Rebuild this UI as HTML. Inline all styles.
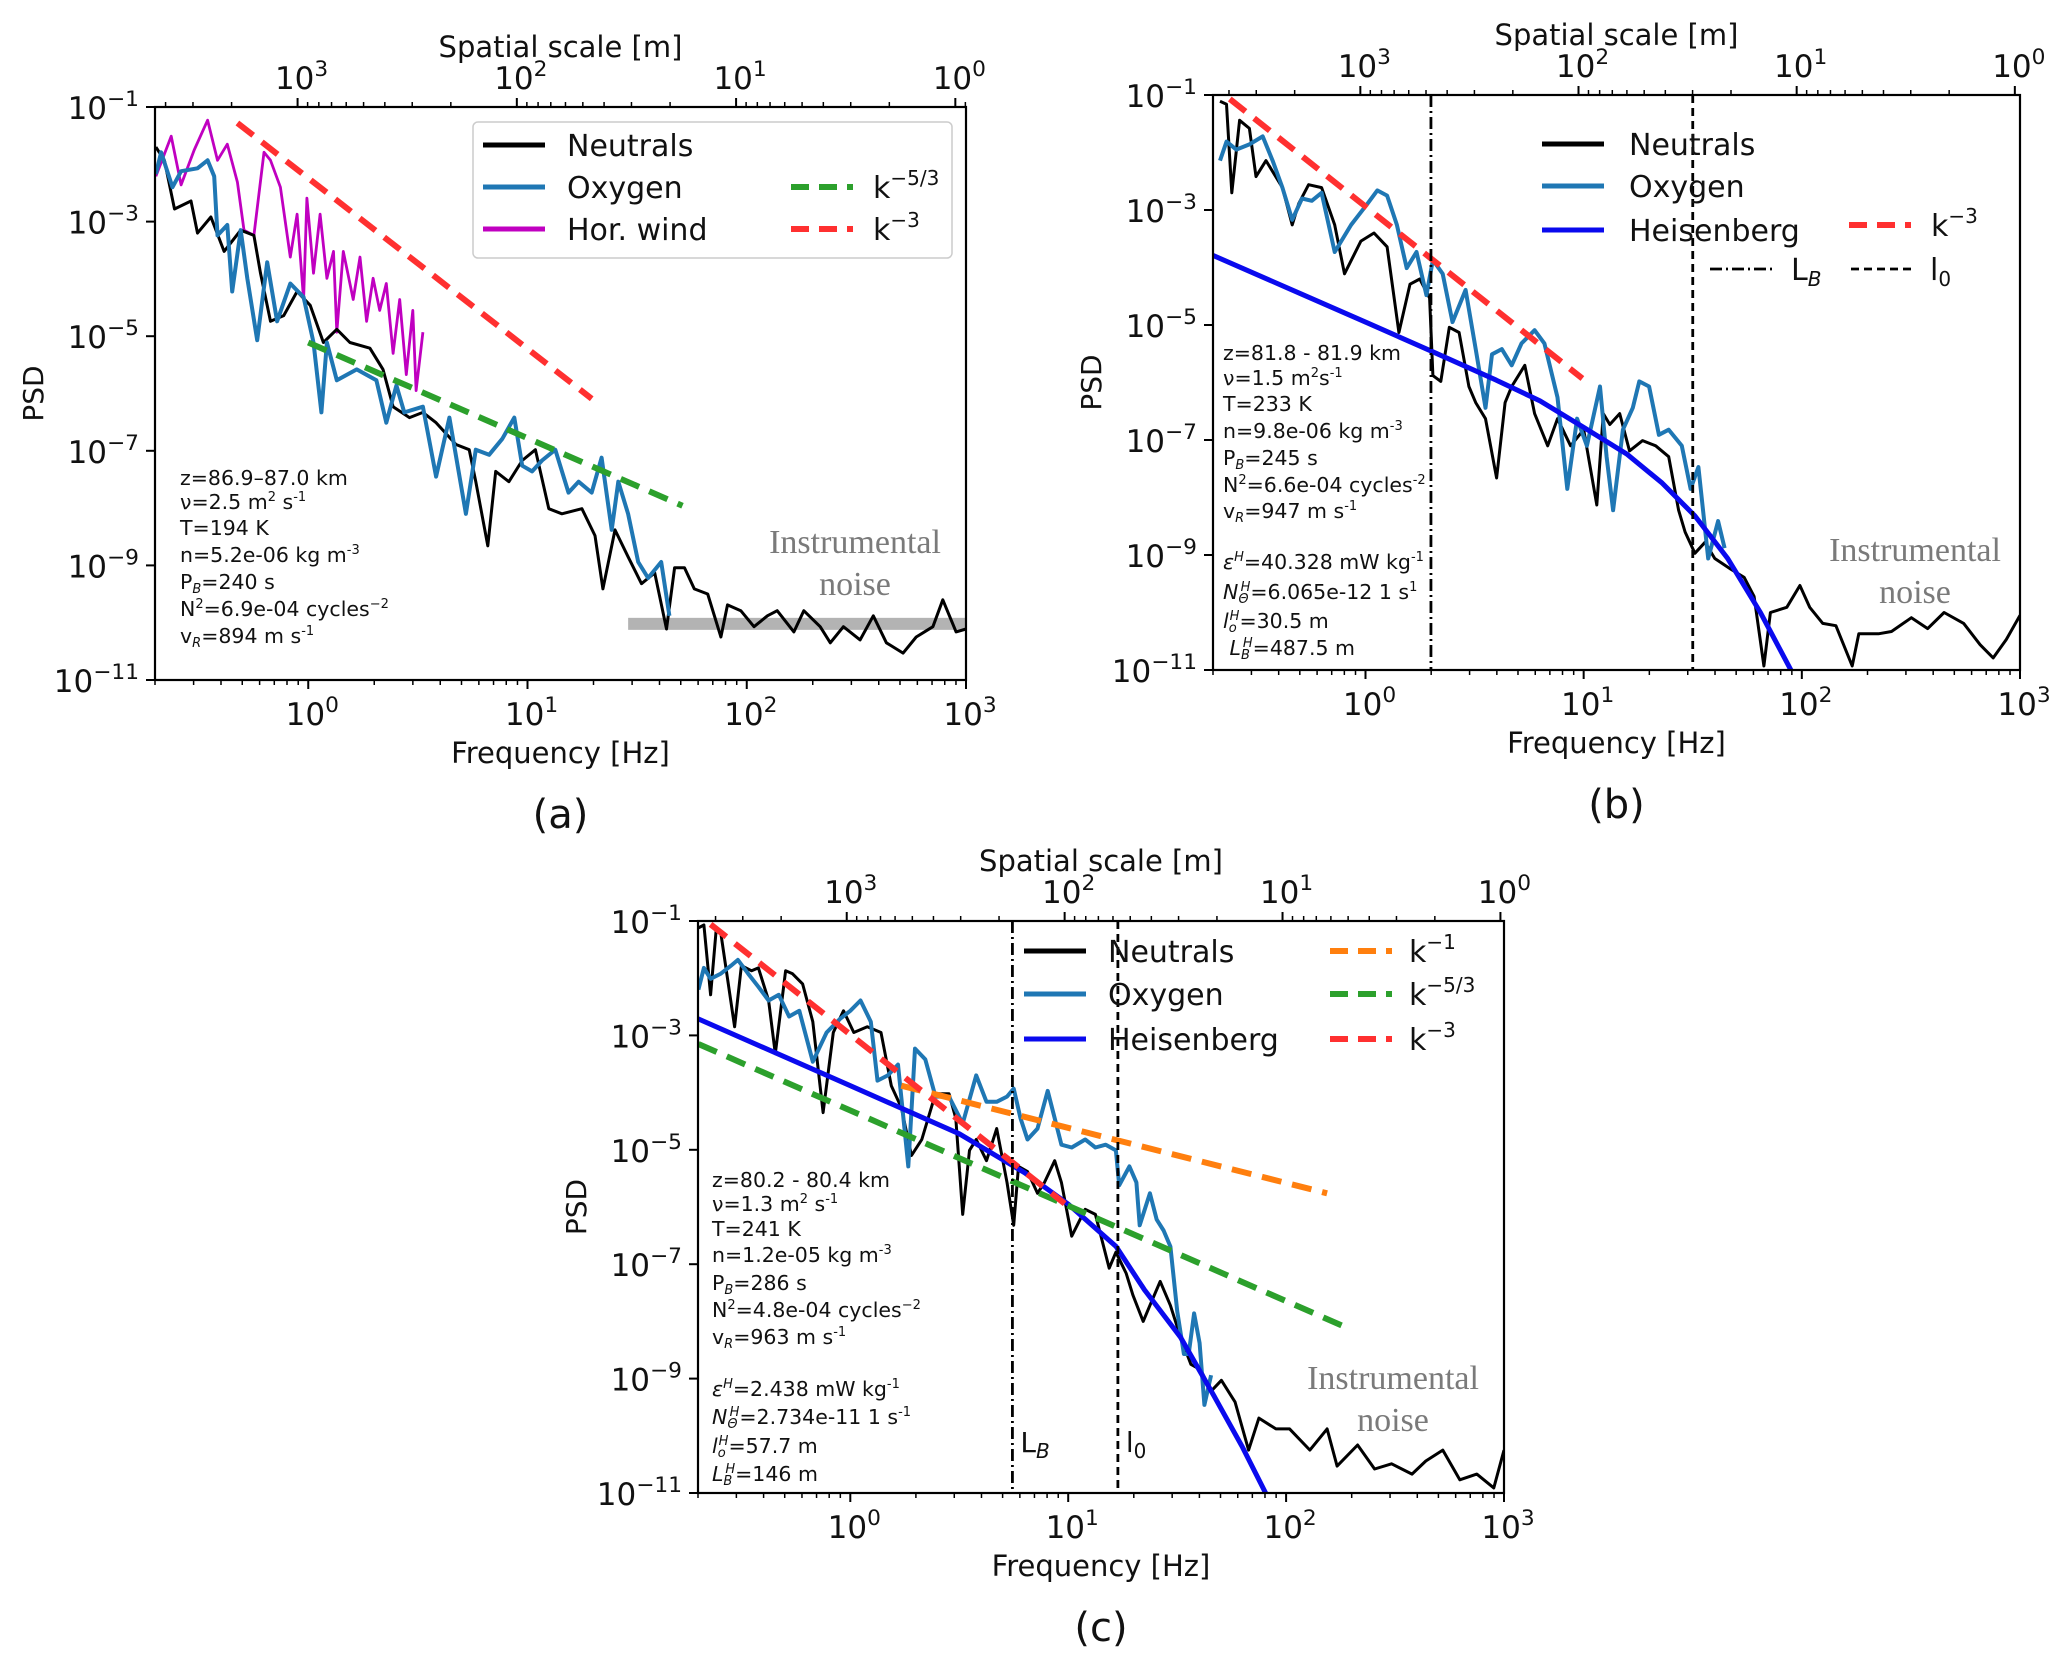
<!DOCTYPE html>
<html><head><meta charset="utf-8">
<style>
html,body{margin:0;padding:0;background:#fff;}
#wrap{position:relative;width:2067px;height:1679px;overflow:hidden;font-family:"DejaVu Sans","Liberation Sans",sans-serif;}
svg{position:absolute;left:0;top:0;}
.ann{position:absolute;font-size:20.5px;line-height:22px;white-space:nowrap;color:#111;}
.ann sup{font-size:13px;vertical-align:8px;line-height:0;}
.ann sub{font-size:13px;vertical-align:-4px;line-height:0;font-style:italic;}
.noise{position:absolute;font-family:"Liberation Serif","DejaVu Serif",serif;font-size:34px;color:#7a7a7a;text-align:center;white-space:nowrap;}
</style></head>
<body>
<div id="wrap">
<svg id="fig" width="2067" height="1679" viewBox="0 0 2067 1679"></svg>

<div class="ann" style="left:180px;top:467px;">
<div style="position:absolute;top:0">z=86.9–87.0 km</div>
<div style="position:absolute;top:24px">ν=2.5 m<sup>2</sup> s<sup>-1</sup></div>
<div style="position:absolute;top:50px">T=194 K</div>
<div style="position:absolute;top:77px">n=5.2e-06 kg m<sup>-3</sup></div>
<div style="position:absolute;top:104px">P<sub>B</sub>=240 s</div>
<div style="position:absolute;top:131px">N<sup>2</sup>=6.9e-04 cycles<sup>−2</sup></div>
<div style="position:absolute;top:158px">v<sub>R</sub>=894 m s<sup>-1</sup></div>
</div>
<div class="noise" style="left:750px;top:522px;width:210px;line-height:42px;">Instrumental<br>noise</div>

<div class="ann" style="left:1223px;top:342px;">
<div style="position:absolute;top:0">z=81.8 - 81.9 km</div>
<div style="position:absolute;top:25px">ν=1.5 m<sup>2</sup>s<sup>-1</sup></div>
<div style="position:absolute;top:51px">T=233 K</div>
<div style="position:absolute;top:78px">n=9.8e-06 kg m<sup>-3</sup></div>
<div style="position:absolute;top:105px">P<sub>B</sub>=245 s</div>
<div style="position:absolute;top:132px">N<sup>2</sup>=6.6e-04 cycles<sup>-2</sup></div>
<div style="position:absolute;top:158px">v<sub>R</sub>=947 m s<sup>-1</sup></div>
<div style="position:absolute;top:209px"><i>ε</i><sup><i>H</i></sup>=40.328 mW kg<sup>-1</sup></div>
<div style="position:absolute;top:239px"><i>N</i><sub>Θ</sub><sup style="margin-left:-8px"><i>H</i></sup>=6.065e-12 1 s<sup>1</sup></div>
<div style="position:absolute;top:268px"><i>l</i><sub>o</sub><sup style="margin-left:-7px"><i>H</i></sup>=30.5 m</div>
<div style="position:absolute;top:295px">&nbsp;<i>L</i><sub>B</sub><sup style="margin-left:-7px"><i>H</i></sup>=487.5 m</div>
</div>
<div class="noise" style="left:1810px;top:530px;width:210px;line-height:42px;">Instrumental<br>noise</div>

<div class="ann" style="left:712px;top:1169px;">
<div style="position:absolute;top:0">z=80.2 - 80.4 km</div>
<div style="position:absolute;top:24px">ν=1.3 m<sup>2</sup> s<sup>-1</sup></div>
<div style="position:absolute;top:49px">T=241 K</div>
<div style="position:absolute;top:75px">n=1.2e-05 kg m<sup>-3</sup></div>
<div style="position:absolute;top:103px">P<sub>B</sub>=286 s</div>
<div style="position:absolute;top:130px">N<sup>2</sup>=4.8e-04 cycles<sup>−2</sup></div>
<div style="position:absolute;top:157px">v<sub>R</sub>=963 m s<sup>-1</sup></div>
<div style="position:absolute;top:209px"><i>ε</i><sup><i>H</i></sup>=2.438 mW kg<sup>-1</sup></div>
<div style="position:absolute;top:237px"><i>N</i><sub>Θ</sub><sup style="margin-left:-8px"><i>H</i></sup>=2.734e-11 1 s<sup>-1</sup></div>
<div style="position:absolute;top:266px"><i>l</i><sub>o</sub><sup style="margin-left:-7px"><i>H</i></sup>=57.7 m</div>
<div style="position:absolute;top:294px"><i>L</i><sub>B</sub><sup style="margin-left:-7px"><i>H</i></sup>=146 m</div>
</div>
<div class="noise" style="left:1288px;top:1358px;width:210px;line-height:42px;">Instrumental<br>noise</div>
</div>

<script>
// ---------- DATA (log10 frequency [Hz], log10 PSD) ----------
const aNeutralF=[-0.695,-0.656,-0.61,-0.535,-0.505,-0.444,-0.384,-0.308,-0.248,-0.218,-0.172,-0.112,-0.051,0.009,0.069,0.13,0.19,0.281,0.341,0.387,0.462,0.523,0.583,0.674,0.734,0.764,0.819,0.855,0.915,0.976,1.036,1.097,1.157,1.248,1.308,1.344,1.399,1.459,1.52,1.58,1.634,1.671,1.716,1.761,1.822,1.882,1.912,1.973,2.033,2.094,2.139,2.215,2.26,2.335,2.381,2.441,2.517,2.577,2.637,2.713,2.773,2.849,2.894,2.955,3.0];
const aNeutralP=[-1.70,-1.93,-2.78,-2.64,-3.20,-2.92,-3.52,-3.15,-3.24,-3.90,-4.74,-4.64,-4.22,-4.46,-5.11,-4.88,-5.11,-5.21,-5.58,-6.23,-6.42,-6.33,-6.51,-6.89,-6.98,-7.54,-8.66,-7.36,-7.54,-7.17,-6.98,-8.01,-8.10,-8.01,-8.48,-9.41,-8.38,-8.85,-9.32,-9.13,-10.11,-9.04,-9.04,-9.41,-9.50,-10.25,-9.69,-9.79,-10.07,-9.88,-9.79,-10.16,-9.79,-10.07,-10.35,-10.07,-10.30,-9.88,-10.35,-10.53,-10.25,-10.07,-9.60,-10.16,-10.11];
const aOxygenF=[-0.695,-0.671,-0.619,-0.58,-0.505,-0.459,-0.429,-0.414,-0.369,-0.347,-0.308,-0.278,-0.233,-0.187,-0.142,-0.082,-0.021,0.024,0.06,0.085,0.13,0.221,0.311,0.356,0.402,0.438,0.523,0.583,0.644,0.719,0.764,0.825,0.885,0.94,0.976,1.021,1.066,1.127,1.187,1.233,1.293,1.338,1.384,1.414,1.459,1.505,1.55,1.61,1.647];
const aOxygenP=[-2.17,-1.79,-2.40,-2.12,-2.07,-1.93,-2.21,-3.24,-3.06,-4.22,-3.15,-3.99,-5.07,-3.71,-4.74,-4.08,-4.32,-5.11,-6.33,-5.11,-5.77,-5.58,-5.77,-6.51,-5.86,-6.33,-6.23,-7.45,-6.42,-8.10,-6.98,-7.07,-6.79,-6.42,-7.26,-7.36,-7.17,-6.98,-7.73,-7.54,-7.73,-7.12,-8.38,-7.54,-8.10,-8.94,-9.22,-8.94,-9.88];
const aWindF=[-0.695,-0.625,-0.58,-0.52,-0.459,-0.414,-0.369,-0.323,-0.293,-0.248,-0.202,-0.172,-0.127,-0.082,-0.051,-0.021,-0.006,0.024,0.054,0.085,0.115,0.13,0.16,0.205,0.236,0.266,0.296,0.326,0.356,0.387,0.417,0.447,0.477,0.492,0.523];
const aWindP=[-2.21,-1.51,-2.36,-1.75,-1.23,-1.93,-1.65,-2.31,-3.15,-3.24,-1.79,-1.93,-2.40,-3.62,-2.87,-4.36,-2.59,-3.90,-2.87,-3.99,-3.52,-4.93,-3.52,-4.36,-3.62,-4.74,-3.99,-4.55,-4.08,-5.30,-4.36,-5.67,-4.55,-5.95,-4.93];
const aK3F=[-0.323,1.293], aK3P=[-1.28,-6.09];
const aK53F=[0.0,1.707], aK53P=[-5.11,-7.96];
const aNoiseF=[1.459,3.0], aNoiseP=[-10.02,-10.02];

const bNeutralF=[-0.667,-0.637,-0.613,-0.577,-0.532,-0.502,-0.456,-0.426,-0.381,-0.336,-0.306,-0.261,-0.201,-0.141,-0.096,-0.021,0.039,0.099,0.153,0.204,0.249,0.294,0.309,0.345,0.384,0.429,0.474,0.505,0.55,0.601,0.64,0.67,0.73,0.775,0.835,0.88,0.94,1.0,1.06,1.09,1.12,1.165,1.21,1.27,1.33,1.39,1.435,1.465,1.51,1.556,1.601,1.676,1.736,1.781,1.826,1.856,1.931,1.991,2.036,2.096,2.156,2.231,2.261,2.351,2.411,2.502,2.577,2.652,2.742,2.817,2.877,2.937,3.0];
const bNeutralP=[-1.11,-1.16,-2.70,-1.44,-1.58,-2.42,-2.14,-2.33,-2.61,-3.26,-2.89,-2.56,-2.61,-3.26,-4.11,-3.54,-3.40,-3.64,-5.13,-4.29,-4.20,-4.53,-5.88,-5.98,-5.04,-5.13,-6.07,-6.35,-6.63,-7.66,-6.35,-6.07,-5.70,-6.54,-7.10,-6.63,-7.10,-6.82,-8.13,-6.54,-6.73,-6.54,-7.19,-7.01,-7.10,-7.29,-8.22,-8.60,-8.97,-8.78,-9.06,-9.25,-9.39,-9.72,-10.93,-10.0,-9.91,-9.53,-9.91,-10.19,-10.23,-10.93,-10.37,-10.37,-10.33,-10.09,-10.28,-10.0,-10.19,-10.56,-10.79,-10.47,-10.05];
const bOxygenF=[-0.667,-0.637,-0.592,-0.532,-0.471,-0.426,-0.381,-0.336,-0.291,-0.246,-0.201,-0.141,-0.066,0.009,0.054,0.099,0.144,0.189,0.234,0.279,0.309,0.354,0.399,0.459,0.505,0.55,0.58,0.625,0.67,0.715,0.775,0.82,0.88,0.925,0.97,1.015,1.075,1.105,1.135,1.18,1.225,1.255,1.30,1.345,1.39,1.45,1.49,1.526,1.571,1.616,1.646];
const bOxygenP=[-2.14,-1.81,-1.95,-1.86,-1.72,-2.14,-2.61,-3.17,-2.80,-2.84,-2.70,-3.73,-3.26,-2.89,-2.66,-2.75,-3.26,-4.01,-3.73,-4.48,-3.87,-4.11,-4.95,-4.39,-5.42,-6.44,-5.51,-5.42,-5.70,-5.32,-5.09,-5.32,-6.26,-7.85,-6.63,-7.10,-6.07,-7.29,-8.22,-6.82,-6.44,-5.98,-6.07,-6.91,-6.82,-7.10,-7.85,-7.47,-9.06,-8.41,-8.88];
const bHeisF=[-0.699,-0.3,0.0,0.3,0.6,0.8,1.0,1.2,1.36,1.51,1.66,1.81,1.95,2.0];
const bHeisP=[-3.79,-4.45,-4.95,-5.45,-5.96,-6.32,-6.78,-7.25,-7.75,-8.32,-9.06,-10.0,-11.0,-11.4];
const bK3F=[-0.622,0.994], bK3P=[-1.07,-5.93];
const bLB=0.30, bL0=1.50;

const cNeutralF=[-0.697,-0.672,-0.641,-0.616,-0.594,-0.531,-0.50,-0.453,-0.422,-0.375,-0.344,-0.297,-0.266,-0.219,-0.172,-0.125,-0.078,-0.031,0.016,0.078,0.141,0.188,0.234,0.281,0.328,0.391,0.453,0.484,0.516,0.547,0.578,0.625,0.672,0.719,0.75,0.772,0.813,0.859,0.891,0.938,0.969,1.016,1.078,1.125,1.188,1.219,1.266,1.297,1.344,1.375,1.422,1.469,1.516,1.563,1.609,1.656,1.703,1.766,1.828,1.875,1.953,2.016,2.109,2.188,2.234,2.328,2.406,2.484,2.578,2.641,2.719,2.797,2.875,2.953,3.0];
const cNeutralP=[-1.12,-1.07,-2.29,-1.17,-1.22,-2.85,-1.78,-1.87,-1.82,-2.39,-3.32,-1.87,-1.92,-2.10,-2.76,-4.35,-2.95,-2.57,-2.95,-2.85,-2.95,-3.88,-4.26,-5.10,-4.82,-4.02,-4.02,-4.45,-6.13,-5.01,-4.82,-5.19,-4.63,-5.57,-6.32,-5.29,-5.38,-5.76,-5.57,-5.19,-5.57,-6.51,-6.04,-6.13,-7.07,-6.79,-7.16,-7.54,-8.00,-7.72,-7.30,-7.72,-8.28,-8.75,-8.85,-9.22,-9.03,-9.41,-10.25,-9.69,-9.88,-9.88,-10.25,-9.88,-10.53,-10.16,-10.58,-10.49,-10.67,-10.44,-10.25,-10.77,-10.67,-10.91,-10.25];
const cOxygenF=[-0.697,-0.672,-0.641,-0.594,-0.547,-0.516,-0.469,-0.422,-0.375,-0.328,-0.281,-0.234,-0.172,-0.109,-0.047,0.0,0.047,0.094,0.125,0.172,0.219,0.266,0.297,0.344,0.391,0.453,0.516,0.578,0.625,0.672,0.719,0.75,0.781,0.813,0.859,0.906,0.938,0.969,1.016,1.078,1.125,1.172,1.219,1.234,1.281,1.313,1.328,1.375,1.406,1.438,1.469,1.50,1.531,1.553,1.578,1.603,1.625,1.656];
const cOxygenP=[-2.20,-1.82,-2.01,-1.92,-1.78,-1.68,-1.92,-2.15,-2.39,-2.29,-2.67,-2.57,-3.46,-2.95,-2.71,-2.57,-2.39,-2.76,-3.79,-3.70,-3.51,-5.29,-3.23,-3.42,-4.07,-4.07,-4.54,-3.70,-4.16,-4.16,-4.07,-3.93,-4.45,-4.82,-4.63,-3.97,-4.45,-4.91,-4.96,-4.82,-4.96,-4.91,-5.01,-5.62,-5.29,-5.57,-6.32,-5.76,-6.22,-6.41,-6.69,-7.82,-8.57,-8.57,-7.86,-8.38,-9.46,-8.94];
const cHeisF=[-0.699,0.0,0.5,0.8,1.0,1.22,1.35,1.516,1.67,1.8,1.906,1.95];
const cHeisP=[-2.71,-3.88,-4.72,-5.40,-5.95,-6.69,-7.45,-8.28,-9.31,-10.2,-11.0,-11.3];
const cK3F=[-0.641,0.984], cK3P=[-1.06,-5.94];
const cK53F=[-0.697,2.297], cK53P=[-3.15,-8.14];
const cK1F=[0.234,2.188], cK1P=[-3.88,-5.76];
const cLB=0.744, cL0=1.228;

// ---------- AXIS TICKS ----------
const freqTickExps=[0,1,2,3];
const psdTickExps=[-1,-3,-5,-7,-9,-11];
const spatialTickExps=[3,2,1,0];
const vRa=894, vRb=947, vRc=963;

// ---------- RENDERING ----------
const NS='http://www.w3.org/2000/svg';
const svg=document.getElementById('fig');
const FMIN=Math.log10(0.2), FMAX=3;
function mk(tag,attrs,parent){const e=document.createElementNS(NS,tag);for(const k in attrs)e.setAttribute(k,attrs[k]);(parent||svg).appendChild(e);return e;}
function mkPanel(x0,y0,x1,y1,vR,id){
  const P={x0,y0,x1,y1,vR,id};
  P.X=f=>x0+(f-FMIN)/(FMAX-FMIN)*(x1-x0);
  P.Y=p=>y0+(-1-p)/10*(y1-y0);
  const cp=mk('clipPath',{id:'clip'+id});
  mk('rect',{x:x0,y:y0,width:x1-x0,height:y1-y0},cp);
  P.g=mk('g',{'clip-path':'url(#clip'+id+')'});
  
  
  return P;
}
function pow10(parent,x,y,exp,size,anchor,name){
  const t=mk('text',{x:x,y:y,'font-size':size,'text-anchor':anchor||'middle','font-family':'DejaVu Sans, Liberation Sans, sans-serif',fill:'#111'},parent);
  
  
  t.appendChild(document.createTextNode('10'));
  const s=mk('tspan',{dy:-size*0.42,'font-size':size*0.7},t);
  s.textContent=String(exp).replace('-','−');
  return t;
}
function txt(x,y,str,size,anchor,name,extra){
  const a={x:x,y:y,'font-size':size,'text-anchor':anchor||'middle','font-family':'DejaVu Sans, Liberation Sans, sans-serif',fill:'#111'};
  if(extra)for(const k in extra)a[k]=extra[k];
  const t=mk('text',a);
  
  
  t.textContent=str;
  return t;
}
function series(P,F,Pv,color,w,dash,name){
  const d=F.map((f,i)=>(i?'L':'M')+P.X(f).toFixed(1)+' '+P.Y(Pv[i]).toFixed(1)).join(' ');
  const a={d:d,fill:'none',stroke:color,'stroke-width':w,'stroke-linejoin':'round'};
  if(dash)a['stroke-dasharray']=dash;
  const p=mk('path',a,P.g);
  
  
  return p;
}
function vline(P,f,dash,name){
  const l=mk('line',{x1:P.X(f),x2:P.X(f),y1:P.y0,y2:P.y1,stroke:'#000','stroke-width':2.8,'stroke-dasharray':dash},P.g);
  
  
}
function axes(P,label){
  const g=mk('g',{});
  
  
  const fr=mk('rect',{x:P.x0,y:P.y0,width:P.x1-P.x0,height:P.y1-P.y0,fill:'none',stroke:'#000','stroke-width':2.2},g);
  
  
  for(let d=-1;d<=3;d++){for(let m=1;m<=9;m++){const f=d+Math.log10(m);if(f<FMIN-1e-6||f>FMAX+1e-6)continue;const L=m===1?9:5;
    mk('line',{x1:P.X(f),x2:P.X(f),y1:P.y1,y2:P.y1+L,stroke:'#000','stroke-width':m===1?2:1.5},g);}}
  freqTickExps.forEach(e=>pow10(g,P.X(e)+4,P.y1+45,e,31,'middle','panel-'+P.id+'-x-tick-label'));
  const lv=Math.log10(P.vR);
  for(let k=-1;k<=4;k++){for(let m=1;m<=9;m++){const f=lv-k-Math.log10(m);if(f<FMIN||f>FMAX+1e-6)continue;const L=m===1?9:5;
    mk('line',{x1:P.X(f),x2:P.X(f),y1:P.y0,y2:P.y0-L,stroke:'#000','stroke-width':m===1?2:1.5},g);}}
  spatialTickExps.forEach(k=>pow10(g,P.X(lv-k)+4,P.y0-18,k,31,'middle','panel-'+P.id+'-top-tick-label'));
  psdTickExps.forEach(e=>{const y=P.Y(e);mk('line',{x1:P.x0,x2:P.x0-9,y1:y,y2:y,stroke:'#000','stroke-width':2},g);
    pow10(g,P.x0-16,y+12,e,31,'end','panel-'+P.id+'-y-tick-label');});
  const cx=(P.x0+P.x1)/2;
  txt(cx,P.y1+83,'Frequency [Hz]',29,'middle','panel-'+P.id+'-x-axis-title');
  txt(cx,P.y0-50,'Spatial scale [m]',29,'middle','panel-'+P.id+'-top-axis-title');
  const yc=(P.y0+P.y1)/2;
  txt(P.x0-112,yc,'PSD',28,'middle','panel-'+P.id+'-y-axis-title',{transform:'rotate(-90 '+(P.x0-112)+' '+yc+')'});
  txt(cx,P.y1+148,label,40,'middle','panel-'+P.id+'-caption');
}
function legLine(x,y,color,dash,w,name){
  const a={x1:x,x2:x+62,y1:y,y2:y,stroke:color,'stroke-width':w};
  if(dash)a['stroke-dasharray']=dash;
  const l=mk('line',a);
  
  
}
function legText(x,y,str,name,sup){
  const t=txt(x,y+11,str,30,'start',name);
  if(sup){const s=mk('tspan',{dy:-13,'font-size':20},t);s.textContent=sup;}
  return t;
}

// Panel A
const A=mkPanel(155,107,966,680,vRa,'a');
const nb=mk('rect',{x:A.X(aNoiseF[0]),y:A.Y(aNoiseP[0])-6,width:A.X(aNoiseF[1])-A.X(aNoiseF[0]),height:12,fill:'#b3b3b3'},A.g);


series(A,aWindF,aWindP,'#c000c0',2.8,null,'panel-a-hor-wind-line');
series(A,aNeutralF,aNeutralP,'#000',3,null,'panel-a-neutrals-line');
series(A,aOxygenF,aOxygenP,'#1f77b4',4,null,'panel-a-oxygen-line');
series(A,aK3F,aK3P,'#ff3030',6,'20 11','panel-a-k-3-line');
series(A,aK53F,aK53P,'#2ca02c',6,'20 11','panel-a-k-53-line');
axes(A,'(a)');
const lb=mk('rect',{x:473,y:122,width:479,height:136,rx:5,fill:'#fff','fill-opacity':0.9,stroke:'#ccc','stroke-width':1.5});


legLine(483,145,'#000',null,5,'panel-a-legend-neutrals-swatch');legText(567,145,'Neutrals','panel-a-legend-neutrals');
legLine(483,187,'#1f77b4',null,5,'panel-a-legend-oxygen-swatch');legText(567,187,'Oxygen','panel-a-legend-oxygen');
legLine(483,229,'#c000c0',null,5,'panel-a-legend-wind-swatch');legText(567,229,'Hor. wind','panel-a-legend-hor-wind');
legLine(791,187,'#2ca02c','18 10',6,'panel-a-legend-k53-swatch');legText(873,187,'k','panel-a-legend-k53','−5/3');
legLine(791,229,'#ff3030','18 10',6,'panel-a-legend-k3-swatch');legText(873,229,'k','panel-a-legend-k3','−3');

// Panel B
const B=mkPanel(1213,95,2020,670,vRb,'b');
series(B,bNeutralF,bNeutralP,'#000',3,null,'panel-b-neutrals-line');
series(B,bOxygenF,bOxygenP,'#1f77b4',4,null,'panel-b-oxygen-line');
series(B,bHeisF,bHeisP,'#0a0aee',5,null,'panel-b-heisenberg-line');
series(B,bK3F,bK3P,'#ff3030',6,'20 11','panel-b-k-3-line');
vline(B,bLB,'12 4 2 4','panel-b-lb-line');
vline(B,bL0,'8 5','panel-b-l0-line');
axes(B,'(b)');
legLine(1542,144,'#000',null,5,'panel-b-legend-neutrals-swatch');legText(1629,144,'Neutrals','panel-b-legend-neutrals');
legLine(1542,186,'#1f77b4',null,5,'panel-b-legend-oxygen-swatch');legText(1629,186,'Oxygen','panel-b-legend-oxygen');
legLine(1542,230,'#0a0aee',null,5,'panel-b-legend-heisenberg-swatch');legText(1629,230,'Heisenberg','panel-b-legend-heisenberg');
legLine(1849,225,'#ff3030','18 10',6,'panel-b-legend-k3-swatch');legText(1931,225,'k','panel-b-legend-k3','−3');
legLine(1710,269,'#000','12 4 2 4',2.8,'panel-b-legend-lb-swatch');
const tLB=legText(1791,269,'L','panel-b-legend-lb');{const s=mk('tspan',{dy:6,'font-size':20,'font-style':'italic'},tLB);s.textContent='B';}
legLine(1851,269,'#000','8 5',2.8,'panel-b-legend-l0-swatch');
const tL0=legText(1930,269,'l','panel-b-legend-l0');{const s=mk('tspan',{dy:6,'font-size':20},tL0);s.textContent='0';}

// Panel C
const C=mkPanel(698,921,1504,1493,vRc,'c');
series(C,cNeutralF,cNeutralP,'#000',3,null,'panel-c-neutrals-line');
series(C,cOxygenF,cOxygenP,'#1f77b4',4,null,'panel-c-oxygen-line');
series(C,cHeisF,cHeisP,'#0a0aee',5,null,'panel-c-heisenberg-line');
series(C,cK1F,cK1P,'#ff7f0e',6,'20 11','panel-c-k-1-line');
series(C,cK53F,cK53P,'#2ca02c',6,'20 11','panel-c-k-53-line');
series(C,cK3F,cK3P,'#ff3030',6,'20 11','panel-c-k-3-line');
vline(C,cLB,'12 4 2 4','panel-c-lb-line');
vline(C,cL0,'8 5','panel-c-l0-line');
axes(C,'(c)');
const cLBt=txt(C.X(cLB)+8,1452,'L',28,'start','panel-c-lb-label');{const s=mk('tspan',{dy:6,'font-size':20,'font-style':'italic'},cLBt);s.textContent='B';}
const cL0t=txt(C.X(cL0)+8,1452,'l',28,'start','panel-c-l0-label');{const s=mk('tspan',{dy:6,'font-size':20},cL0t);s.textContent='0';}
legLine(1024,951,'#000',null,5,'panel-c-legend-neutrals-swatch');legText(1108,951,'Neutrals','panel-c-legend-neutrals');
legLine(1024,994,'#1f77b4',null,5,'panel-c-legend-oxygen-swatch');legText(1108,994,'Oxygen','panel-c-legend-oxygen');
legLine(1024,1039,'#0a0aee',null,5,'panel-c-legend-heisenberg-swatch');legText(1108,1039,'Heisenberg','panel-c-legend-heisenberg');
legLine(1330,951,'#ff7f0e','18 10',6,'panel-c-legend-k1-swatch');legText(1409,951,'k','panel-c-legend-k1','−1');
legLine(1330,994,'#2ca02c','18 10',6,'panel-c-legend-k53-swatch');legText(1409,994,'k','panel-c-legend-k53','−5/3');
legLine(1330,1039,'#ff3030','18 10',6,'panel-c-legend-k3-swatch');legText(1409,1039,'k','panel-c-legend-k3','−3');
</script>
</body></html>
